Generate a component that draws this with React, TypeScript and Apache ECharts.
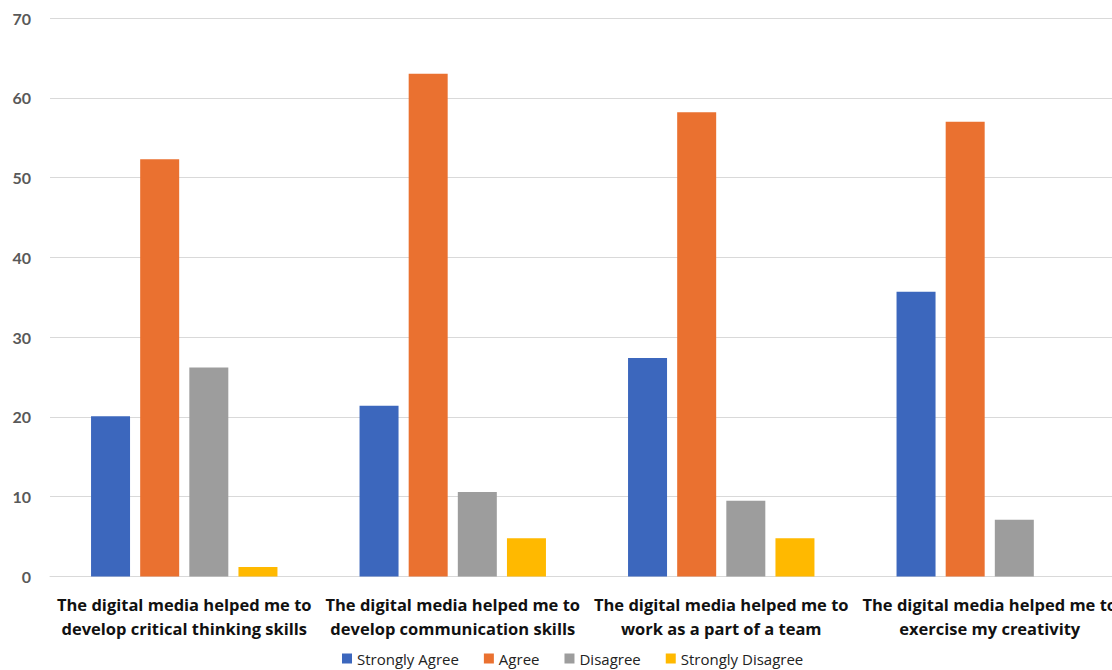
import React, { useEffect, useRef } from "react";
import * as echarts from "echarts";

const categories = [
  "The digital media helped me to\ndevelop critical thinking skills",
  "The digital media helped me to\ndevelop communication skills",
  "The digital media helped me to\nwork as a part of a team",
  "The digital media helped me to\nexercise my creativity",
];
const stronglyAgree = [20.1, 21.4, 27.4, 35.7];
const agree = [52.3, 63.0, 58.2, 57.0];
const disagree = [26.2, 10.6, 9.5, 7.1];
const stronglyDisagree = [1.2, 4.8, 4.8, 0];

const seriesNames = ["Strongly Agree", "Agree", "Disagree", "Strongly Disagree"];
const colors = ["#3C67BD", "#EA7130", "#9D9D9D", "#FFB900"];

export default function App() {
  const ref = useRef<HTMLDivElement>(null);
  useEffect(() => {
    if (!ref.current) return;
    const chart = echarts.init(ref.current, undefined, { renderer: "svg" });
    const data = [stronglyAgree, agree, disagree, stronglyDisagree];
    chart.setOption({
      animation: false,
      color: colors,
      textStyle: { fontFamily: "Open Sans" },
      grid: { left: 50, top: 18, right: 0, height: 558.5, containLabel: false },
      legend: {
        top: 646,
        left: 337,
        itemWidth: 10,
        itemHeight: 10,
        itemGap: 25,
        icon: "rect",
        textStyle: { fontSize: 15, color: "#222", fontFamily: "Open Sans", padding: [0, 0, 0, 0] },
        data: seriesNames,
      },
      xAxis: {
        type: "category",
        data: categories,
        axisLine: { show: true, lineStyle: { color: "#D9D9D9", width: 1 } },
        axisTick: { show: false },
        axisLabel: {
          interval: 0,
          fontSize: 16.5,
          fontWeight: "bold",
          color: "#111",
          lineHeight: 24,
          margin: 16,
          fontFamily: "Open Sans",
        },
      },
      yAxis: {
        type: "value",
        min: 0,
        max: 70,
        interval: 10,
        axisLine: { show: false },
        axisTick: { show: false },
        splitLine: { lineStyle: { color: "#D9D9D9", width: 1 } },
        axisLabel: {
          fontSize: 16,
          fontWeight: "bold",
          color: "#595959",
          margin: 19,
          fontFamily: "Lato",
        },
      },
      series: seriesNames.map((name, i) => ({
        name,
        type: "bar",
        data: data[i],
        barWidth: 39,
        barGap: "26%",
        itemStyle: { color: colors[i] },
      })),
    });
    return () => chart.dispose();
  }, []);
  return (
    <div style={{ width: 1112, height: 670, position: "absolute", left: 0, top: 0, overflow: "hidden" }}>
      <div ref={ref} style={{ width: 1124, height: 670 }} />
    </div>
  );
}
